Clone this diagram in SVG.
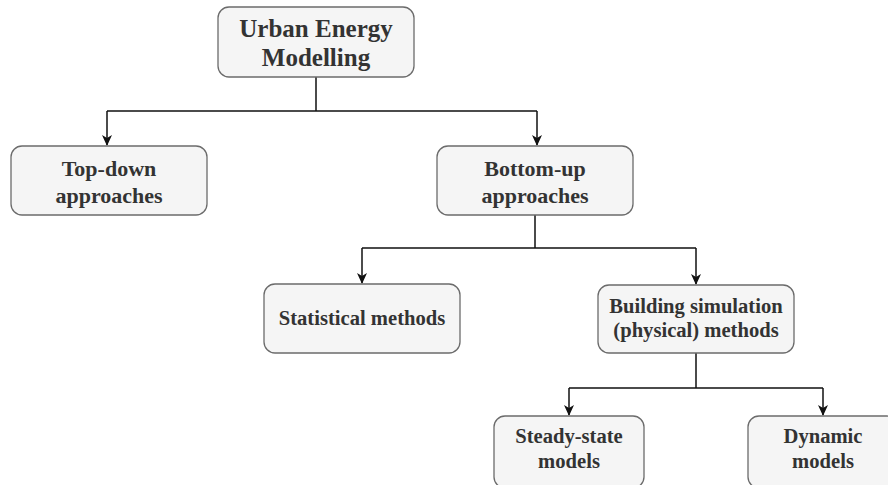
<svg xmlns="http://www.w3.org/2000/svg" width="888" height="485" viewBox="0 0 888 485">
<defs>
<marker id="ah" markerWidth="11" markerHeight="10" refX="10" refY="5" orient="auto" markerUnits="userSpaceOnUse" viewBox="0 0 11 10">
<path d="M0,0 L11,5 L0,10 L3,5 Z" fill="#111"/>
</marker>
<style>
.box{fill:#f5f5f5;stroke:#6b6b6b;stroke-width:1.3}
.t{font-family:"Liberation Serif","Times New Roman",serif;font-weight:bold;fill:#333;text-anchor:middle}
.c{fill:none;stroke:#111;stroke-width:1.5}
</style>
</defs>
<rect width="888" height="485" fill="#fff"/>
<g id="connectors">
<path class="c" d="M316,77 V111 M107,111 H537"/>
<path class="c" d="M107,111 V145" marker-end="url(#ah)"/>
<path class="c" d="M537,111 V145" marker-end="url(#ah)"/>
<path class="c" d="M535,215 V248 M362,248 H696"/>
<path class="c" d="M362,248 V283" marker-end="url(#ah)"/>
<path class="c" d="M696,248 V284" marker-end="url(#ah)"/>
<path class="c" d="M696,353 V388 M569,388 H823"/>
<path class="c" d="M569,388 V415" marker-end="url(#ah)"/>
<path class="c" d="M823,388 V415" marker-end="url(#ah)"/>
</g>
<g id="root">
<rect class="box" x="218" y="7" width="196" height="70" rx="11"/>
<text class="t" x="316" y="37" font-size="25">Urban Energy</text>
<text class="t" x="316" y="66" font-size="25">Modelling</text>
</g>
<g id="topdown">
<rect class="box" x="11" y="146" width="196" height="69" rx="11"/>
<text class="t" x="109" y="176" font-size="22">Top-down</text>
<text class="t" x="109" y="203" font-size="22">approaches</text>
</g>
<g id="bottomup">
<rect class="box" x="437" y="146" width="196" height="69" rx="11"/>
<text class="t" x="535" y="176" font-size="22">Bottom-up</text>
<text class="t" x="535" y="203" font-size="22">approaches</text>
</g>
<g id="statistical">
<rect class="box" x="264" y="284" width="196" height="69" rx="11"/>
<text class="t" x="362" y="325" font-size="20.6">Statistical methods</text>
</g>
<g id="building">
<rect class="box" x="598" y="285" width="196" height="68" rx="11"/>
<text class="t" x="696" y="313" font-size="20.6">Building simulation</text>
<text class="t" x="696" y="337" font-size="20.6">(physical) methods</text>
</g>
<g id="steady">
<rect class="box" x="494" y="416" width="150" height="72" rx="11"/>
<text class="t" x="569" y="443" font-size="20.6">Steady-state</text>
<text class="t" x="569" y="468" font-size="20.6">models</text>
</g>
<g id="dynamic">
<rect class="box" x="748" y="416" width="150" height="72" rx="11"/>
<text class="t" x="823" y="443" font-size="20.6">Dynamic</text>
<text class="t" x="823" y="468" font-size="20.6">models</text>
</g>
</svg>
